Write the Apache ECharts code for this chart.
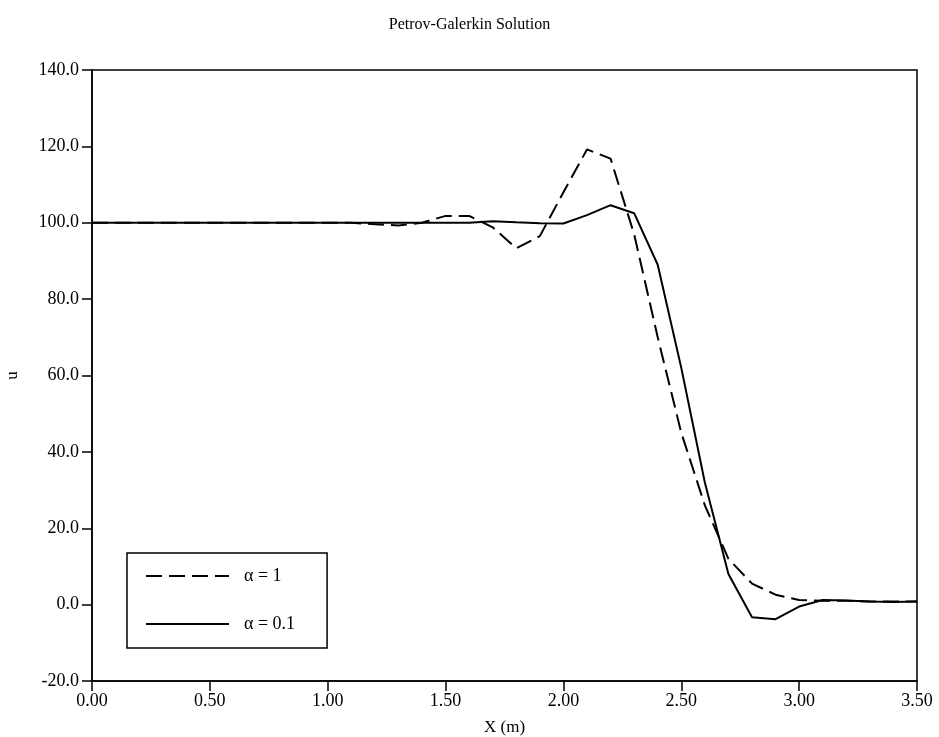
<!DOCTYPE html>
<html>
<head>
<meta charset="utf-8">
<script src="https://cdn.jsdelivr.net/npm/echarts@6/dist/echarts.min.js"></script>
<style>
  html, body { margin: 0; padding: 0; background: #fff; }
  #chart { width: 939px; height: 737px; }
</style>
</head>
<body>
<div id="chart"></div>
<script>
// Node positions along the channel (m)
const xNodes = [0.0, 0.1, 0.2, 0.3, 0.4, 0.5, 0.6, 0.7, 0.8, 0.9,
                1.0, 1.1, 1.2, 1.3, 1.4, 1.5, 1.6, 1.7, 1.8, 1.9,
                2.0, 2.1, 2.2, 2.3, 2.4, 2.5, 2.6, 2.7, 2.8, 2.9,
                3.0, 3.1, 3.2, 3.3, 3.4, 3.5];

// u with upwinding parameter alpha = 1
const uAlpha1 = [100, 100, 100, 100, 100, 100, 100, 100, 100, 100,
                 100, 100, 99.6, 99.3, 100, 101.8, 101.8, 98.8, 93.3, 96.5,
                 108, 119.2, 116.8, 97, 70, 45, 26, 12, 5.5, 2.6,
                 1.2, 1.0, 1.0, 0.8, 0.8, 0.8];

// u with upwinding parameter alpha = 0.1
const uAlpha01 = [100, 100, 100, 100, 100, 100, 100, 100, 100, 100,
                  100, 100, 100, 100, 100, 100, 100, 100.4, 100.1, 99.9,
                  99.8, 102, 104.6, 102.5, 89, 62, 32, 8, -3.3, -3.8,
                  -0.5, 1.2, 1.1, 0.8, 0.7, 0.8];

const seriesNames = ['\u03b1 = 1', '\u03b1 = 0.1'];

const pairs = (ys) => xNodes.map((x, i) => [x, ys[i]]);

const FONT = 'Liberation Serif';

const chart = echarts.init(document.getElementById('chart'), null, { renderer: 'canvas' });

chart.setOption({
  backgroundColor: '#fff',
  animation: false,
  title: {
    text: 'Petrov-Galerkin Solution',
    left: 'center',
    top: 12,
    textStyle: { fontFamily: FONT, fontSize: 16, fontWeight: 'normal', color: '#000' }
  },
  grid: {
    left: 92, right: 22, top: 70, bottom: 56,
    outerBoundsMode: 'none',
    containLabel: false,
    show: true,
    borderColor: '#000',
    borderWidth: 1.5,
    backgroundColor: 'transparent'
  },
  legend: {
    orient: 'vertical',
    left: 127,
    top: 553,
    padding: [14, 32, 15, 18],
    itemWidth: 83,
    itemHeight: 12,
    itemGap: 30,
    borderColor: '#000',
    borderWidth: 1.5,
    backgroundColor: '#fff',
    itemStyle: { opacity: 0, borderWidth: 0 },
    lineStyle: { width: 2, opacity: 1 },
    data: seriesNames.map(n => ({ name: n })),
    textStyle: { fontFamily: FONT, fontSize: 18, color: '#000', padding: [0, 0, 0, 10] }
  },
  xAxis: {
    type: 'value',
    min: 0,
    max: 3.5,
    interval: 0.5,
    name: 'X (m)',
    nameLocation: 'middle',
    nameGap: 38,
    nameTextStyle: { fontFamily: FONT, fontSize: 17, color: '#000' },
    axisLine: { show: true, onZero: false, lineStyle: { color: '#000', width: 1.5 } },
    axisTick: { show: true, length: 10, inside: false, lineStyle: { color: '#000', width: 1.5 } },
    axisLabel: {
      fontFamily: FONT, fontSize: 18, color: '#000', margin: 11,
      formatter: (v) => v.toFixed(2)
    },
    splitLine: { show: false }
  },
  yAxis: {
    type: 'value',
    min: -20,
    max: 140,
    interval: 20,
    name: 'u',
    nameLocation: 'middle',
    nameRotate: 90,
    nameGap: 71,
    nameTextStyle: { fontFamily: FONT, fontSize: 17, color: '#000' },
    axisLine: { show: true, lineStyle: { color: '#000', width: 1.5 } },
    axisTick: { show: true, length: 10, inside: false, lineStyle: { color: '#000', width: 1.5 } },
    axisLabel: {
      fontFamily: FONT, fontSize: 18, color: '#000', margin: 13,
      formatter: (v) => v.toFixed(1)
    },
    splitLine: { show: false }
  },
  series: [
    {
      name: seriesNames[0],
      type: 'line',
      data: pairs(uAlpha1),
      symbol: 'none',
      lineStyle: { color: '#000', width: 2, type: [16, 7] },
      itemStyle: { color: '#000' },
      z: 3
    },
    {
      name: seriesNames[1],
      type: 'line',
      data: pairs(uAlpha01),
      symbol: 'none',
      lineStyle: { color: '#000', width: 2, type: 'solid' },
      itemStyle: { color: '#000' },
      z: 4
    }
  ]
});
</script>
</body>
</html>
